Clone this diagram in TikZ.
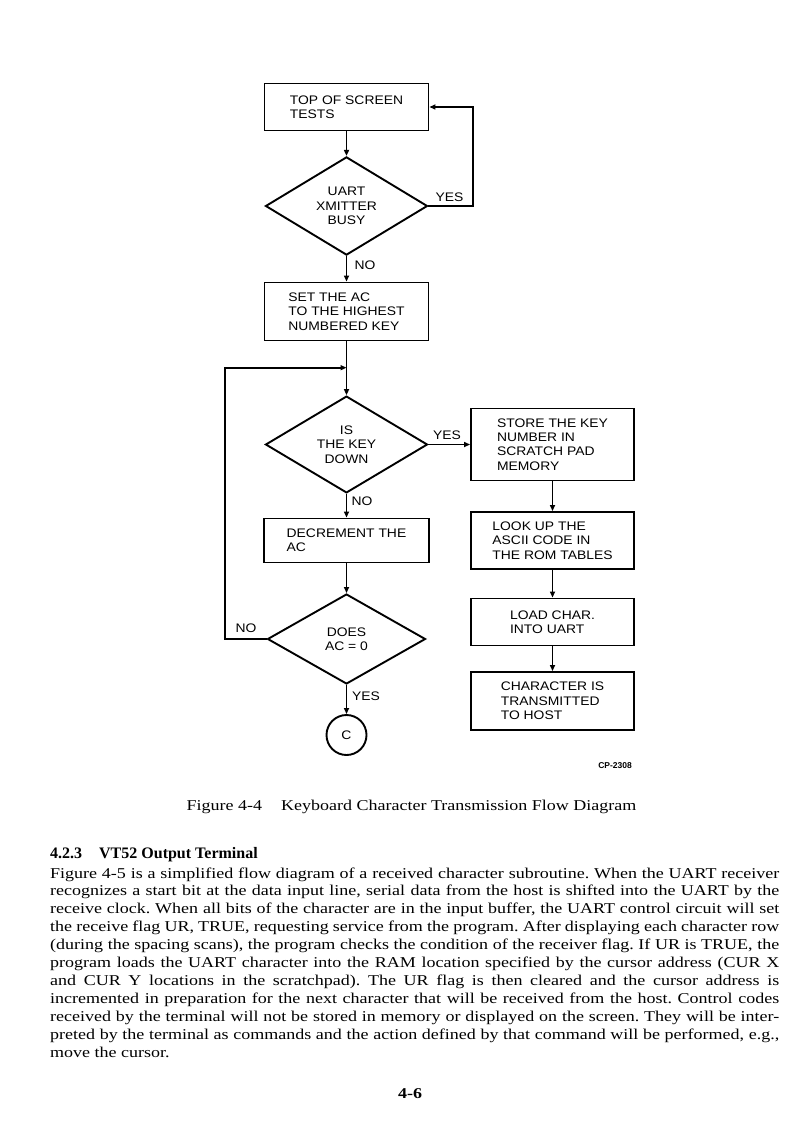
\documentclass[tikz,border=0pt]{standalone}
\usepackage{fontspec}
\setmainfont{Liberation Serif}
\newfontfamily\bodyfont[FakeStretch=1.2]{Liberation Serif}
\newfontfamily\headfont{Liberation Serif}
\newfontfamily\fcfont[FakeStretch=1.12]{Liberation Sans}
\newfontfamily\cpfont{Liberation Sans}
\usetikzlibrary{shapes.geometric,arrows.meta}
\frenchspacing
\newcommand{\jline}[1]{\hbox to 729pt{#1}}
\tikzset{
  fc/.style={font=\fcfont\fontsize{12.4}{14.3}\selectfont},
  box/.style={draw, line width=1.9pt, rectangle, fc, align=left, inner sep=0pt},
  dec/.style={draw, line width=1.9pt, diamond, fc, align=center, inner sep=0pt},
  conn/.style={line width=1.9pt},
  arr/.style={conn, -{Triangle[length=6pt,width=5pt]}},
  lbl/.style={fc, inner sep=0pt},
  txt/.style={inner sep=0pt}
}
\begin{document}
\begin{tikzpicture}[x=1pt,y=-1pt]
\useasboundingbox[fill=white] (0,0) rectangle (809,1139);

% left column
\node[box, minimum width=164pt, minimum height=47pt] (b1) at (346.5,107) {TOP OF SCREEN\\TESTS};
\node[dec, minimum width=162pt, minimum height=93pt] (d1) at (346.5,206) {UART\\XMITTER\\BUSY};
\node[box, minimum width=164pt, minimum height=58pt] (b2) at (346.5,311.5) {SET THE AC\\TO THE HIGHEST\\NUMBERED KEY};
\node[dec, minimum width=162pt, minimum height=92pt] (d2) at (346.5,444.5) {IS\\THE KEY\\DOWN};
\node[box, minimum width=165pt, minimum height=44pt] (b4) at (346.5,540.5) {DECREMENT THE\\AC};
\node[dec, minimum width=158pt, minimum height=90pt] (d3) at (346.5,639) {DOES\\AC = 0};
\node[draw, circle, line width=1.9pt, minimum size=40pt, inner sep=0pt, fc] (c) at (346.5,735) {C};

% right column
\node[box, minimum width=163pt, minimum height=72pt] (b3) at (552.5,444.5) {STORE THE KEY\\NUMBER IN\\SCRATCH PAD\\MEMORY};
\node[box, minimum width=163pt, minimum height=57pt] (b5) at (552.5,540.5) {LOOK UP THE\\ASCII CODE IN\\THE ROM TABLES};
\node[box, minimum width=163pt, minimum height=47pt] (b6) at (552.5,622) {LOAD CHAR.\\INTO UART};
\node[box, minimum width=163pt, minimum height=58pt] (b7) at (552.5,701) {CHARACTER IS\\TRANSMITTED\\TO HOST};

% helper coordinates
\coordinate (r1) at (472.7,206);
\coordinate (j) at (346.5,367.7);
\coordinate (lb) at (225,639);

% connectors
\draw[arr] (b1.south) -- (d1.north);
\draw[arr] (d1.east) -- (r1) |- (b1.east);
\draw[arr] (d1.south) -- (b2.north);
\draw[arr] (b2.south) -- (d2.north);
\draw[arr] (d3.west) -- (lb) |- (j);
\draw[arr] (d2.east) -- (b3.west);
\draw[arr] (d2.south) -- (b4.north);
\draw[arr] (b4.south) -- (d3.north);
\draw[arr] (d3.south) -- (c.north);
\draw[arr] (b3.south) -- (b5.north);
\draw[arr] (b5.south) -- (b6.north);
\draw[arr] (b6.south) -- (b7.north);

% connector labels
\node[lbl] (yes1) at (449.5,197) {YES};
\node[lbl] (no1) at (365,265) {NO};
\node[lbl] (yes2) at (447,435) {YES};
\node[lbl] (no2) at (362,501) {NO};
\node[lbl] (no3) at (246,628.5) {NO};
\node[lbl] (yes3) at (366,696) {YES};

% figure id
\node[txt, anchor=base east, font=\cpfont\bfseries\fontsize{8.5}{10}\selectfont] (cp) at (632,768.5) {CP-2308};

% caption
\node[txt, anchor=base, font=\bodyfont\fontsize{15}{18}\selectfont] (cap) at (411.5,810) {Figure 4-4\hspace{19pt}Keyboard Character Transmission Flow Diagram};

% heading
\node[txt, anchor=base west, font=\headfont\bfseries\fontsize{16}{18}\selectfont] (head) at (50,858) {4.2.3\hspace{17pt}VT52 Output Terminal};

% paragraph
\node[txt, anchor=base west] (para) at (50,878) {\vtop{\bodyfont\fontsize{15}{17.9}\selectfont\baselineskip=17.9pt
\jline{Figure 4-5 is a simplified flow diagram of a received character subroutine. When the UART receiver}
\jline{recognizes a start bit at the data input line, serial data from the host is shifted into the UART by the}
\jline{receive clock. When all bits of the character are in the input buffer, the UART control circuit will set}
\jline{the receive flag UR, TRUE, requesting service from the program. After displaying each character row}
\jline{(during the spacing scans), the program checks the condition of the receiver flag. If UR is TRUE, the}
\jline{program loads the UART character into the RAM location specified by the cursor address (CUR X}
\jline{and CUR Y locations in the scratchpad). The UR flag is then cleared and the cursor address is}
\jline{incremented in preparation for the next character that will be received from the host. Control codes}
\jline{received by the terminal will not be stored in memory or displayed on the screen. They will be inter-}
\jline{preted by the terminal as commands and the action defined by that command will be performed, e.g.,}
\hbox{move the cursor.}}};

% page number
\node[txt, anchor=base, font=\bodyfont\bfseries\fontsize{15}{18}\selectfont] (pg) at (410,1098) {4-6};
\end{tikzpicture}
\end{document}
